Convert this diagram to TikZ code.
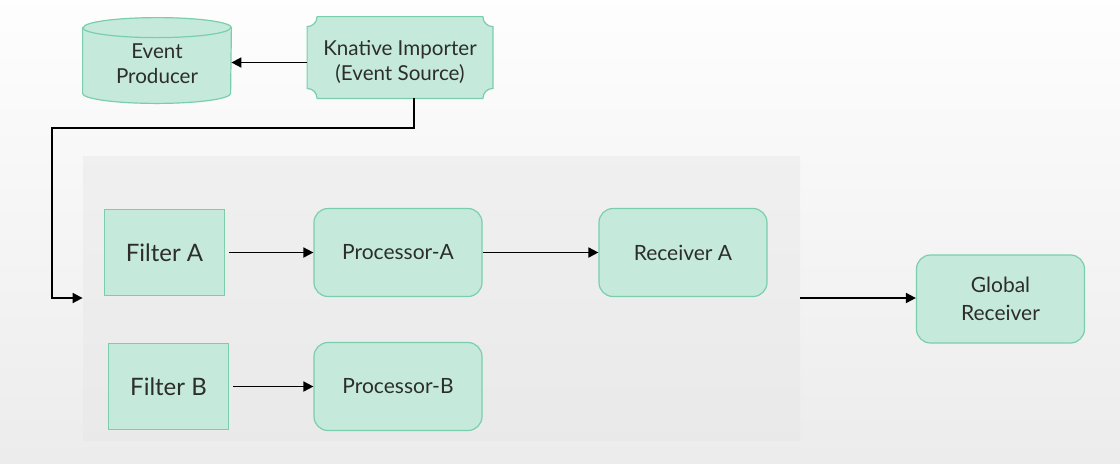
\documentclass[tikz,border=0pt]{standalone}
\usepackage{fontspec}
\setsansfont{Lato}
\usetikzlibrary{arrows.meta}

\definecolor{boxfill}{RGB}{197,234,219}
\definecolor{boxline}{RGB}{122,206,172}
\definecolor{ink}{RGB}{45,45,45}

\pgfdeclarelayer{back}
\pgfdeclarelayer{mid}
\pgfsetlayers{back,mid,main}

\begin{document}
\begin{tikzpicture}[
  x=0.5pt,y=-0.5pt,
  >={Triangle[length=5pt,width=5pt]},
  flow/.style={->,line width=0.9pt,black},
  box/.style={draw=boxline,fill=boxfill,text=ink,align=center,line width=0.6pt,font=\sffamily},
  filterbox/.style={box,minimum width=60pt,minimum height=43pt,font=\sffamily\fontsize{12}{15}\selectfont},
  procbox/.style={box,rounded corners=7pt,minimum width=84pt,minimum height=44pt,font=\sffamily\fontsize{10.5}{14}\selectfont},
  plain/.style={text=ink,align=center,font=\sffamily\fontsize{10.3}{12.5}\selectfont},
]
  \useasboundingbox (0,0) rectangle (1120,463);
  \begin{pgfonlayer}{back}
    \shade[top color=gray!1,bottom color=gray!15] (0,0) rectangle (1120,463);
    \node[shade,top color=gray!12,bottom color=gray!17,minimum width=358.5pt,minimum height=142pt,inner sep=0pt]
      (panel) at (441.5,298) {};
  \end{pgfonlayer}

  % top row
  \node[minimum width=74pt,minimum height=42.5pt,
    label={[plain,yshift=-1.5pt]center:Event\\Producer}] (prod) at (157,60.5) {};
  \node[minimum width=92.5pt,minimum height=40.5pt,
    label={[plain,yshift=-2pt]center:Knative Importer\\(Event Source)}] (knat) at (400,57.5) {};

  \def\r{5pt}
  \begin{pgfonlayer}{mid}
    % cylinder
    \draw[box] ([yshift=-\r]prod.north west) -- ([yshift=\r]prod.south west)
      arc[start angle=180,end angle=360,x radius=37pt,y radius=\r]
      -- ([yshift=-\r]prod.north east)
      arc[start angle=0,end angle=180,x radius=37pt,y radius=\r] -- cycle;
    \draw[boxline,line width=0.6pt] ([yshift=-\r]prod.north west)
      arc[start angle=180,end angle=360,x radius=37pt,y radius=\r];
    % plaque
    \draw[box] ([xshift=\r]knat.north west) -- ([xshift=-\r]knat.north east)
      arc[start angle=180,end angle=270,radius=\r]
      -- ([yshift=\r]knat.south east)
      arc[start angle=90,end angle=180,radius=\r]
      -- ([xshift=\r]knat.south west)
      arc[start angle=0,end angle=90,radius=\r]
      -- ([yshift=-\r]knat.north west)
      arc[start angle=270,end angle=360,radius=\r] -- cycle;
  \end{pgfonlayer}

  % inside the panel
  \node[filterbox] (fa) at (164.5,252.5) {Filter A};
  \node[procbox] (pa) at (398,252.5) {Processor-A};
  \node[procbox] (ra) at (683,252.5) {Receiver A};
  \node[filterbox] (fb) at (168.5,386.5) {Filter B};
  \node[procbox] (pb) at (398,386.5) {Processor-B};

  \node[procbox] (glob) at (1000.5,299) {Global\\Receiver};

  \coordinate (turn) at (52,128);

  \draw[flow] ([yshift=-2.5pt]knat.west) -- ([yshift=-2.5pt]knat.west -| prod.east);
  \draw[flow] ([xshift=7pt]knat.south) |- (turn) |- (panel.west);
  \draw[flow] ([xshift=2pt]fa.east) -- (pa.west);
  \draw[flow] (pa.east) -- (ra.west);
  \draw[flow] ([xshift=2pt]fb.east) -- (pb.west);
  \draw[flow] (panel.east) -- (panel.east -| glob.west);
\end{tikzpicture}
\end{document}
